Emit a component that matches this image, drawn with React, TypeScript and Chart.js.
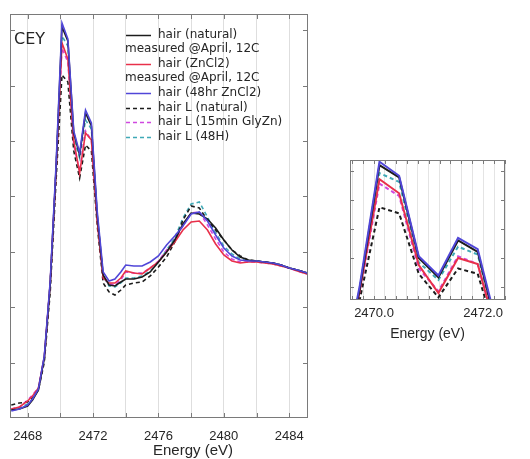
import React, { useEffect, useRef } from "react";
import { Chart, registerables } from "chart.js";

Chart.register(...registerables);

// ---------- data ----------
const energy = [
  2467.0, 2467.5, 2468.0, 2468.3, 2468.66, 2469.02, 2469.38, 2469.74, 2470.1, 2470.46,
  2470.82, 2471.18, 2471.54, 2471.9, 2472.26, 2472.62, 2472.98, 2473.34, 2473.7, 2474.0,
  2474.5, 2475.0, 2475.5, 2476.0, 2476.5, 2477.0, 2477.5, 2478.0, 2478.5, 2479.0,
  2479.5, 2480.0, 2480.5, 2481.0, 2481.5, 2482.0, 2482.5, 2483.0, 2483.5, 2484.0,
  2484.5, 2485.1,
];

const hairNatural = [
  0.08, 0.09, 0.12, 0.18, 0.28, 0.6, 1.34, 2.5, 3.91, 3.77,
  2.85, 2.63, 3.05, 2.92, 2.02, 1.43, 1.33, 1.32, 1.36, 1.39,
  1.39, 1.41, 1.46, 1.56, 1.66, 1.78, 1.94, 2.05, 2.04, 1.99,
  1.9, 1.78, 1.68, 1.61, 1.58, 1.57, 1.56, 1.55, 1.53, 1.5,
  1.48, 1.45,
];

const hairZnCl2 = [
  0.09, 0.11, 0.17, 0.22, 0.3, 0.61, 1.35, 2.48, 3.75, 3.59,
  2.77, 2.45, 2.85, 2.78, 1.96, 1.4, 1.35, 1.35, 1.4, 1.47,
  1.45, 1.44, 1.5, 1.56, 1.66, 1.76, 1.88, 1.96, 1.97, 1.88,
  1.74, 1.63, 1.57, 1.55, 1.56, 1.56, 1.55, 1.54, 1.52, 1.5,
  1.47, 1.44,
];

const hair48hrZnCl2 = [
  0.07, 0.09, 0.13, 0.19, 0.29, 0.62, 1.37, 2.54, 3.95, 3.79,
  2.87, 2.65, 3.08, 2.95, 2.06, 1.46, 1.37, 1.39, 1.46, 1.53,
  1.52, 1.52, 1.56, 1.62, 1.73, 1.82, 1.92, 2.04, 2.06, 1.97,
  1.83, 1.7, 1.62, 1.58, 1.57, 1.57, 1.56, 1.55, 1.53, 1.5,
  1.48, 1.45,
];

const hairLNatural = [
  0.13, 0.15, 0.16, 0.2, 0.28, 0.56, 1.26, 2.38, 3.43, 3.36,
  2.67, 2.4, 2.73, 2.67, 1.92, 1.35, 1.26, 1.23, 1.28, 1.33,
  1.35, 1.36, 1.42, 1.51, 1.61, 1.76, 1.98, 2.12, 2.1, 1.98,
  1.88, 1.78, 1.68, 1.62, 1.58, 1.57, 1.56, 1.55, 1.53, 1.5,
  1.48, 1.45,
];

const hairL15minGlyZn = [
  0.09, 0.11, 0.18, 0.23, 0.3, 0.61, 1.34, 2.46, 3.7, 3.56,
  2.73, 2.47, 2.87, 2.78, 1.98, 1.41, 1.34, 1.33, 1.38, 1.46,
  1.45, 1.45, 1.5, 1.57, 1.68, 1.78, 1.92, 2.05, 2.06, 1.93,
  1.79, 1.66, 1.59, 1.56, 1.56, 1.56, 1.55, 1.54, 1.52, 1.5,
  1.47, 1.44,
];

const hairL48H = [
  0.08, 0.1, 0.14, 0.19, 0.29, 0.61, 1.35, 2.51, 3.82, 3.72,
  2.8, 2.6, 2.98, 2.89, 2.01, 1.42, 1.32, 1.31, 1.35, 1.4,
  1.4, 1.42, 1.47, 1.56, 1.68, 1.8, 2.0, 2.14, 2.16, 2.01,
  1.85, 1.72, 1.64, 1.59, 1.57, 1.57, 1.56, 1.55, 1.53, 1.5,
  1.48, 1.45,
];

const seriesLabels = [
  "hair (natural)",
  "hair (ZnCl2)",
  "hair (48hr ZnCl2)",
  "hair L (natural)",
  "hair L (15min GlyZn)",
  "hair L (48H)",
];
const measuredNote = "measured @April, 12C";
const mainTickLabels = [2468, 2472, 2476, 2480, 2484];
const insetTickLabels = [2470.0, 2472.0];
const axisTitle = "Energy (eV)";
const panelLabel = "CEY";

// ---------- styles ----------
const seriesValues = [hairNatural, hairZnCl2, hair48hrZnCl2, hairLNatural, hairL15minGlyZn, hairL48H];
const seriesColors = ["#1c1c1c", "#e8304a", "#5046d8", "#1c1c1c", "#d048e0", "#3fa9b6"];
const seriesDash = [[], [], [], [4, 3], [4, 3], [4, 3]];
const seriesOrder = [1, 2, 0, 3, 3, 3];

const FRAME = "#7a7a7a";
const TEXT = "#262626";
const SANS = '"Liberation Sans", Arial, sans-serif';
const LEGEND_FONT = '12px "DejaVu Sans", sans-serif';

function makeDatasets(width: number) {
  return seriesLabels.map((label, i) => ({
    label,
    data: energy.map((x, j) => ({ x, y: seriesValues[i][j] })),
    borderColor: seriesColors[i],
    backgroundColor: seriesColors[i],
    borderWidth: width,
    borderDash: seriesDash[i],
    pointRadius: 0,
    tension: 0,
    fill: false,
    clip: 0,
    order: seriesOrder[i],
  }));
}

function range(start: number, stop: number, step: number) {
  const out: number[] = [];
  for (let v = start; v <= stop + 1e-9; v += step) out.push(Math.round(v * 1000) / 1000);
  return out;
}

function framePlugin(id: string, xTicks: number[], yTicks: number[], len: number) {
  return {
    id,
    afterDatasetsDraw(chart: any) {
      const { ctx, chartArea: a, scales } = chart;
      ctx.save();
      ctx.strokeStyle = FRAME;
      ctx.lineWidth = 1;
      ctx.setLineDash([]);
      ctx.strokeRect(a.left + 0.5, a.top + 0.5, a.right - a.left - 1, a.bottom - a.top - 1);
      ctx.beginPath();
      for (const v of xTicks) {
        const x = Math.round(scales.x.getPixelForValue(v)) + 0.5;
        ctx.moveTo(x, a.bottom);
        ctx.lineTo(x, a.bottom - len);
        ctx.moveTo(x, a.top);
        ctx.lineTo(x, a.top + len);
      }
      for (const v of yTicks) {
        const y = Math.round(scales.y.getPixelForValue(v)) + 0.5;
        ctx.moveTo(a.left, y);
        ctx.lineTo(a.left + len, y);
        ctx.moveTo(a.right, y);
        ctx.lineTo(a.right - len, y);
      }
      ctx.stroke();
      ctx.restore();
    },
  };
}

const legendRows: Array<{ kind: "series"; idx: number } | { kind: "note" }> = [
  { kind: "series", idx: 0 },
  { kind: "note" },
  { kind: "series", idx: 1 },
  { kind: "note" },
  { kind: "series", idx: 2 },
  { kind: "series", idx: 3 },
  { kind: "series", idx: 4 },
  { kind: "series", idx: 5 },
];

const mainDecor = {
  id: "mainDecor",
  afterDraw(chart: any) {
    const { ctx, chartArea: a } = chart;
    ctx.save();
    ctx.fillStyle = TEXT;
    ctx.font = '16px "DejaVu Sans", sans-serif';
    ctx.textAlign = "left";
    ctx.textBaseline = "alphabetic";
    ctx.fillText(panelLabel, a.left + 4, a.top + 30);

    ctx.font = LEGEND_FONT;
    ctx.textBaseline = "middle";
    legendRows.forEach((row, r) => {
      const y = 34.5 + r * 14.6;
      if (row.kind === "note") {
        ctx.fillStyle = TEXT;
        ctx.fillText(measuredNote, 125, y);
      } else {
        ctx.strokeStyle = seriesColors[row.idx];
        ctx.lineWidth = 1.5;
        ctx.setLineDash(seriesDash[row.idx]);
        ctx.beginPath();
        ctx.moveTo(126, Math.round(y) + 0.5);
        ctx.lineTo(151, Math.round(y) + 0.5);
        ctx.stroke();
        ctx.setLineDash([]);
        ctx.fillStyle = TEXT;
        ctx.fillText(seriesLabels[row.idx], 158, y);
      }
    });

    ctx.font = `15px ${SANS}`;
    ctx.textAlign = "center";
    ctx.textBaseline = "middle";
    ctx.fillStyle = TEXT;
    ctx.fillText(axisTitle, 193, 451);
    ctx.restore();
  },
};

const insetDecor = {
  id: "insetDecor",
  afterDraw(chart: any) {
    const { ctx, chartArea: a } = chart;
    ctx.save();
    ctx.font = `14px ${SANS}`;
    ctx.textAlign = "center";
    ctx.textBaseline = "middle";
    ctx.fillStyle = TEXT;
    ctx.fillText(axisTitle, (a.left + a.right) / 2, a.bottom + 34);
    ctx.restore();
  },
};

const MAIN_X = range(2468, 2484, 2);
const MAIN_Y = range(0.554, 3.9, 0.554);
const INSET_X = range(2469.6, 2472.4, 0.2);
const INSET_Y = range(2.52, 3.9, 0.33);

export default function App() {
  const mainRef = useRef<HTMLCanvasElement>(null);
  const insetRef = useRef<HTMLCanvasElement>(null);

  useEffect(() => {
    const main = new Chart(mainRef.current as HTMLCanvasElement, {
      type: "line",
      data: { datasets: makeDatasets(1.6) as any },
      options: {
        responsive: false,
        animation: false,
        devicePixelRatio: 1,
        layout: { padding: { left: 0, top: 14, right: 22, bottom: 0 } },
        plugins: { legend: { display: false }, tooltip: { enabled: false } },
        scales: {
          x: {
            type: "linear",
            min: 2466.92,
            max: 2485.15,
            border: { display: false },
            grid: { color: "#dedede", drawTicks: false, lineWidth: 1 },
            afterBuildTicks: (s: any) => {
              s.ticks = MAIN_X.map((v) => ({ value: v }));
            },
            afterFit: (s: any) => {
              s.height = 41;
            },
            ticks: {
              autoSkip: false,
              maxRotation: 0,
              padding: 11,
              color: TEXT,
              font: { family: SANS, size: 13 },
              callback: (v: any) => (mainTickLabels.includes(Number(v)) ? String(v) : ""),
            },
          },
          y: {
            type: "linear",
            min: 0,
            max: 4.04,
            border: { display: false },
            grid: { display: false },
            ticks: { display: false },
            afterFit: (s: any) => {
              s.width = 10;
            },
          },
        },
      },
      plugins: [framePlugin("mainFrame", MAIN_X, MAIN_Y, 5), mainDecor],
    } as any);

    const inset = new Chart(insetRef.current as HTMLCanvasElement, {
      type: "line",
      data: { datasets: makeDatasets(2) as any },
      options: {
        responsive: false,
        animation: false,
        devicePixelRatio: 1,
        layout: { padding: { left: 0, top: 20, right: 25, bottom: 0 } },
        plugins: { legend: { display: false }, tooltip: { enabled: false } },
        scales: {
          x: {
            type: "linear",
            min: 2469.56,
            max: 2472.4,
            border: { display: false },
            grid: { color: "#e4e4e4", drawTicks: false, lineWidth: 1 },
            afterBuildTicks: (s: any) => {
              s.ticks = INSET_X.map((v) => ({ value: v }));
            },
            afterFit: (s: any) => {
              s.height = 50;
            },
            ticks: {
              autoSkip: false,
              maxRotation: 0,
              padding: 6,
              color: TEXT,
              font: { family: SANS, size: 13 },
              callback: (v: any) => {
                const hit = insetTickLabels.find((t) => Math.abs(t - Number(v)) < 1e-6);
                return hit !== undefined ? hit.toFixed(1) : "";
              },
            },
          },
          y: {
            type: "linear",
            min: 2.37,
            max: 3.97,
            border: { display: false },
            grid: { display: false },
            ticks: { display: false },
            afterFit: (s: any) => {
              s.width = 10;
            },
          },
        },
      },
      plugins: [framePlugin("insetFrame", INSET_X, INSET_Y, 4), insetDecor],
    } as any);

    return () => {
      main.destroy();
      inset.destroy();
    };
  }, []);

  return (
    <div style={{ position: "absolute", left: 0, top: 0, width: 530, height: 459, background: "#fff", overflow: "hidden" }}>
      <canvas
        ref={mainRef}
        width={330}
        height={459}
        style={{ position: "absolute", left: 0, top: 0, width: 330, height: 459 }}
      />
      <canvas
        ref={insetRef}
        width={190}
        height={210}
        style={{ position: "absolute", left: 340, top: 140, width: 190, height: 210 }}
      />
    </div>
  );
}
